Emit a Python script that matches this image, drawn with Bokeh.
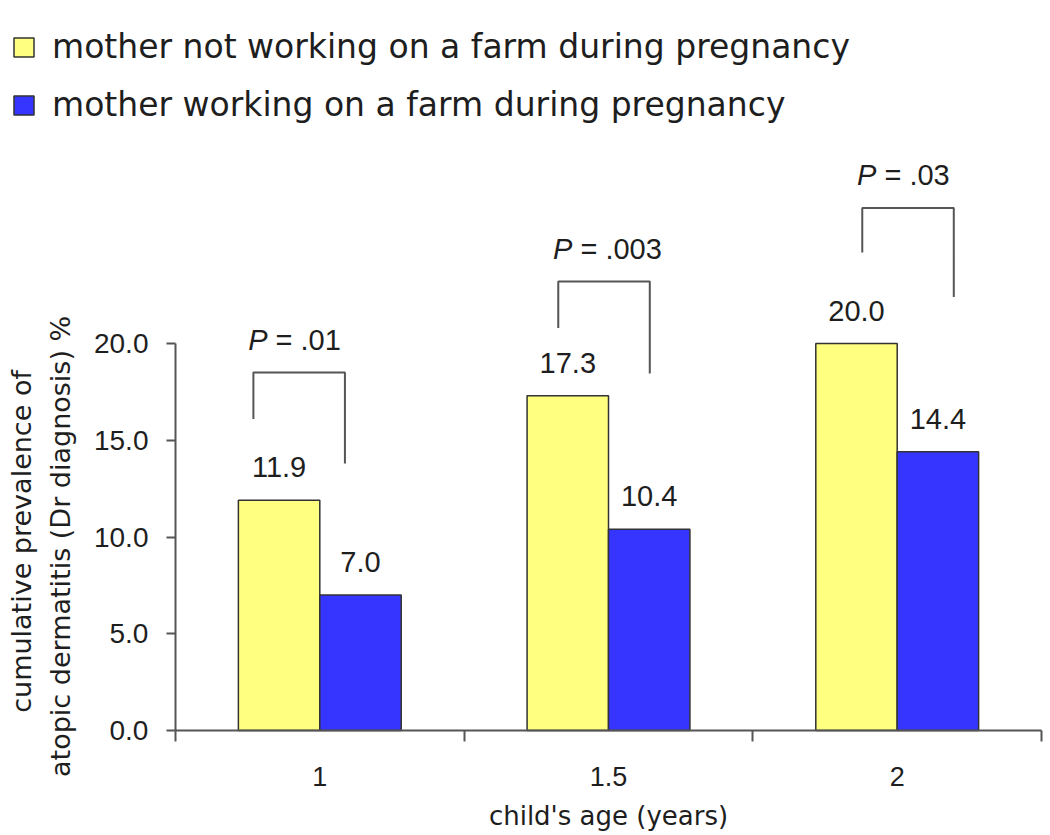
import numpy as np
from bokeh.plotting import figure
from bokeh.models import (Range1d, FixedTicker, Legend, LegendItem, Label,
                          ColumnDataSource, NumeralTickFormatter)
from bokeh.core.properties import value
from bokeh.embed import file_html
from bokeh.resources import INLINE

# ---------------- data ----------------
ages = ["1", "1.5", "2"]
not_working = [11.9, 17.3, 20.0]
working = [7.0, 10.4, 14.4]
p_values = [".01", ".003", ".03"]
series_names = ["mother not working on a farm during pregnancy",
                "mother working on a farm during pregnancy"]
y_ticks = [0, 5, 10, 15, 20]

# significance-bracket geometry (annotation layout, data units)
bracket_top = [18.5, 23.2, 27.0]
bracket_left_end = [16.1, 20.8, 24.7]
bracket_right_end = [13.8, 18.45, 22.4]
bracket_left_off = [-0.23, -0.174, -0.121]
bracket_span = 0.317

# ---------------- styling ----------------
YELLOW = "#FFFF80"
BLUE = "#3535FF"
EDGE = "#333333"
AXIS = "#555555"
TXT = "#1e1e1e"
NUM_FONT = "Liberation Sans"
WORD_FONT = "DejaVu Sans"
BAR_W = 0.282
OFF = 0.141

idx = np.arange(len(ages)) + 0.5

# the frame covers the whole canvas; axes are pinned inside it
p = figure(frame_width=1050, frame_height=835,
           x_range=Range1d(-0.606, 3.031), y_range=Range1d(-5.426, 37.726),
           output_backend="svg", toolbar_location=None,
           min_border=0)
p.outline_line_color = None
p.xgrid.visible = False
p.ygrid.visible = False
p.background_fill_color = "white"
p.border_fill_color = "white"

src = ColumnDataSource(dict(
    xn=idx - OFF, xw=idx + OFF,
    nw=not_working, w=working,
    nw_lab=[f"{v:.1f}" for v in not_working],
    w_lab=[f"{v:.1f}" for v in working],
))

r1 = p.vbar(x="xn", top="nw", width=BAR_W, source=src,
            fill_color=YELLOW, line_color=EDGE, line_width=1.5)
r2 = p.vbar(x="xw", top="w", width=BAR_W, source=src,
            fill_color=BLUE, line_color=EDGE, line_width=1.5)

for col_x, col_y, col_t in (("xn", "nw", "nw_lab"), ("xw", "w", "w_lab")):
    p.text(x=col_x, y=col_y, text=col_t, source=src,
           text_align="center", text_baseline="middle", y_offset=-33,
           text_font=value(NUM_FONT), text_font_size="29px", text_color=TXT)

# significance brackets
xl = [c + o for c, o in zip(idx, bracket_left_off)]
xr = [x + bracket_span for x in xl]
p.multi_line(xs=[[a, a, b, b] for a, b in zip(xl, xr)],
             ys=[[le, t, t, re] for le, t, re in
                 zip(bracket_left_end, bracket_top, bracket_right_end)],
             line_color=AXIS, line_width=2)
p_anchor = [x + 0.049 for x in xl]
p.text(x=p_anchor, y=bracket_top, text=["P"] * len(p_values),
       text_align="right", text_baseline="middle", y_offset=-33,
       text_font=value(NUM_FONT), text_font_style="italic",
       text_font_size="29px", text_color=TXT)
p.text(x=p_anchor, y=bracket_top, text=[f"= {v}" for v in p_values],
       text_align="left", text_baseline="middle", y_offset=-33, x_offset=8,
       text_font=value(NUM_FONT), text_font_size="29px", text_color=TXT)

# ---------------- axes ----------------
ya = p.yaxis[0]
ya.fixed_location = 0
ya.ticker = FixedTicker(ticks=y_ticks)
ya.formatter = NumeralTickFormatter(format="0.0")
ya.bounds = (0, 20)
ya.major_tick_out = 9
ya.major_tick_in = 0
ya.minor_tick_line_color = None
ya.axis_line_color = AXIS
ya.axis_line_width = 2
ya.major_tick_line_color = AXIS
ya.major_tick_line_width = 2
ya.major_label_standoff = 18
ya.major_label_text_font = NUM_FONT
ya.major_label_text_font_size = "28px"
ya.major_label_text_color = TXT

xa = p.xaxis[0]
xa.fixed_location = 0
xa.ticker = FixedTicker(ticks=list(idx), minor_ticks=[0, 1, 2, 3])
xa.major_label_overrides = {float(c): a for c, a in zip(idx, ages)}
xa.bounds = (0, 3)
xa.major_tick_out = 0
xa.major_tick_in = 0
xa.minor_tick_out = 11
xa.minor_tick_in = 0
xa.minor_tick_line_color = AXIS
xa.minor_tick_line_width = 2
xa.axis_line_color = AXIS
xa.axis_line_width = 2
xa.major_label_standoff = 25
xa.major_label_text_font = NUM_FONT
xa.major_label_text_font_size = "27px"
xa.major_label_text_color = TXT

# axis titles
p.add_layout(Label(x=1.5, y=-4.44, text="child's age (years)",
                   text_align="center", text_baseline="alphabetic",
                   text_font=WORD_FONT, text_font_size="26px", text_color=TXT))
p.add_layout(Label(x=-0.533, y=9.77, text="cumulative prevalence of",
                   angle=np.pi / 2, text_align="center", text_baseline="alphabetic",
                   text_font=WORD_FONT, text_font_size="27px", text_color=TXT))
p.add_layout(Label(x=-0.398, y=10.18, text="atopic dermatitis (Dr diagnosis)    %",
                   angle=np.pi / 2, text_align="center", text_baseline="alphabetic",
                   text_font=WORD_FONT, text_font_size="27px", text_color=TXT))

# ---------------- legend ----------------
legend = Legend(items=[LegendItem(label=series_names[0], renderers=[r1]),
                       LegendItem(label=series_names[1], renderers=[r2])],
                location=(11, 711), orientation="vertical",
                border_line_color=None, background_fill_alpha=0,
                padding=0, margin=0, spacing=19,
                glyph_width=25, glyph_height=24, label_height=24,
                label_standoff=16, label_text_font=WORD_FONT,
                label_text_font_size="33px", label_text_color=TXT,
                label_text_baseline="middle")
p.add_layout(legend)

open("out.html", "w").write(file_html(p, INLINE))
